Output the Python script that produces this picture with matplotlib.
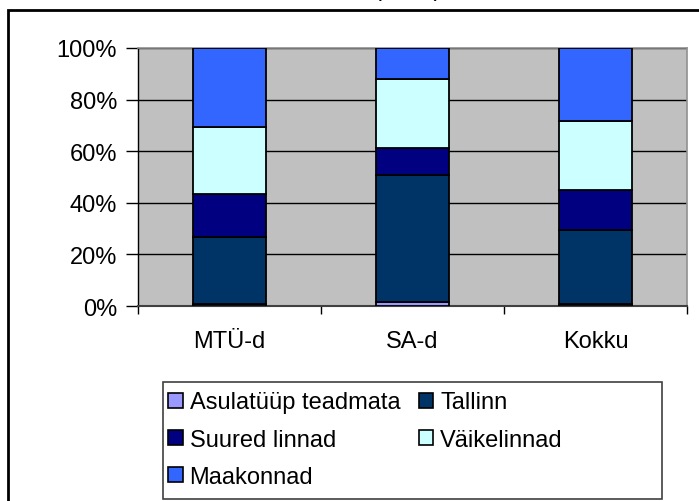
import matplotlib
matplotlib.use("Agg")
import matplotlib.pyplot as plt
from matplotlib.patches import Rectangle
import numpy as np

plt.rcParams['font.family'] = ['Liberation Sans', 'DejaVu Sans']

categories = ["MTÜ-d", "SA-d", "Kokku"]
series_names = ["Asulatüüp teadmata", "Tallinn", "Suured linnad", "Väikelinnad", "Maakonnad"]
asulatuup = [0.7, 1.4, 0.8]
tallinn = [25.9, 49.2, 28.7]
suured = [16.9, 10.8, 15.5]
vaike = [26.0, 26.6, 26.8]
maakonnad = [30.5, 12.0, 28.2]
colors = ["#9999FF", "#003366", "#000080", "#CCFFFF", "#3366FF"]
yticks = [0, 20, 40, 60, 80, 100]
ytick_labels = ["0%", "20%", "40%", "60%", "80%", "100%"]

values = [asulatuup, tallinn, suured, vaike, maakonnad]
FS = 17

fig = plt.figure(figsize=(6.99, 5.02), dpi=100)
ax = fig.add_axes([138/699, 1-307/502, (687-138)/699, (307-49)/502])
ax.set_facecolor("#C0C0C0")

x = np.arange(len(categories))
bottom = np.zeros(len(categories))
handles = []
for name, vals, c in zip(series_names, values, colors):
    vals = np.array(vals, dtype=float)
    b = ax.bar(x, vals, width=0.4, bottom=bottom, color=c, edgecolor="black",
               linewidth=1.3, label=name, zorder=3)
    handles.append(b)
    bottom += vals

ax.set_xlim(-0.5, len(categories) - 0.5)
ax.set_ylim(0, 100)
ax.set_yticks(yticks)
ax.set_yticklabels(ytick_labels, fontsize=FS)
ax.yaxis.grid(True, color="black", linewidth=1, zorder=1)
ax.set_axisbelow(True)

ax.set_xticks(np.arange(-0.5, len(categories)), minor=False)
ax.set_xticklabels([])
ax.set_xticks(x, minor=True)
ax.set_xticklabels(categories, minor=True, fontsize=FS)
ax.tick_params(axis='x', which='major', direction='out', length=6, width=1, color="black")
ax.tick_params(axis='x', which='minor', length=0, pad=17)
ax.tick_params(axis='y', direction='out', length=9, width=1, color="black", pad=6)

for s in ["top", "right"]:
    ax.spines[s].set_color("#909090")
    ax.spines[s].set_linewidth(1.2)
ax.spines["left"].set_color("black")
ax.spines["left"].set_linewidth(1)
ax.spines["bottom"].set_color("#404040")
ax.spines["bottom"].set_linewidth(1.5)

# legend, row-wise order like the reference
order = [0, 2, 4, 1, 3]
leg = fig.legend(handles=[handles[i] for i in order],
                 labels=[series_names[i] for i in order], ncol=2, loc="upper left",
                 bbox_to_anchor=(166/699, 1-390/502), frameon=False,
                 fontsize=FS, handlelength=0.6, handleheight=0.6,
                 handletextpad=0.3, columnspacing=0.8, labelspacing=0.65,
                 borderpad=0.1, borderaxespad=0)
for h in leg.legend_handles:
    h.set_edgecolor("black")
    h.set_linewidth(1.2)
fig.patches.append(Rectangle((163/699, 1-500/502), (662-163)/699, (500-383)/502,
                             transform=fig.transFigure, fill=False,
                             edgecolor="#404040", linewidth=1.2))

# outer chart frame (extends past the right/bottom edge)
fig.patches.append(Rectangle((8/699, -0.05), 1.1, 1-11/502+0.05, transform=fig.transFigure,
                             fill=False, edgecolor="black", linewidth=2, clip_on=False))
# partially visible title at top
fig.text(408/699, 1+4/502, "(2008)", ha="center", va="baseline", fontsize=FS)

fig.savefig("out.png", dpi=100)
